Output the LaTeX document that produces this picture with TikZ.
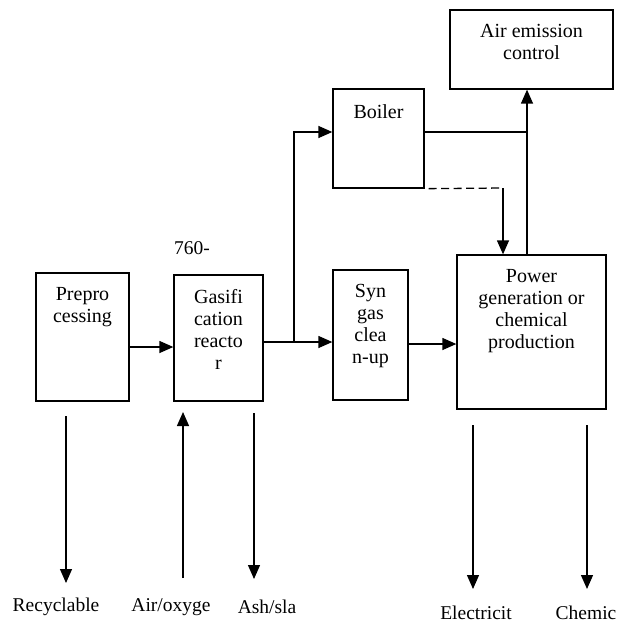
\documentclass[tikz,border=0pt]{standalone}
\usepackage{fontspec}
\setmainfont{Liberation Serif}
\usetikzlibrary{arrows.meta}
\begin{document}
\begin{tikzpicture}[x=1pt,y=-1pt,line width=1.3pt,
  box/.style={draw,rectangle,inner sep=0pt,line width=1.3pt},
  txt/.style={font=\fontsize{20}{22}\selectfont,align=center,inner sep=0pt,anchor=north},
  lbl/.style={font=\fontsize{19.5}{22}\selectfont,inner sep=0pt},
  arr/.style={-{Triangle[length=14pt,width=12pt]}},
  dsh/.style={dash pattern=on 8pt off 4.5pt}]
\useasboundingbox (0,0) rectangle (618,623);
% boxes
\node[box,minimum width=93pt,minimum height=128pt] (prep) at (82.5,337) {};
\node[box,minimum width=89pt,minimum height=126pt] (gas) at (218.5,338) {};
\node[box,minimum width=75pt,minimum height=130pt] (syn) at (370.5,335) {};
\node[box,minimum width=91pt,minimum height=99pt] (boil) at (378.5,138.5) {};
\node[box,minimum width=163pt,minimum height=79pt] (air) at (531.5,49.5) {};
\node[box,minimum width=149pt,minimum height=154pt] (pow) at (531.5,332) {};
% box texts
\node[txt] (preptxt) at ([yshift=-14pt]prep.north) {Prepro\\cessing};
\node[txt] (gastxt) at ([yshift=-14pt]gas.north) {Gasifi\\cation\\reacto\\r};
\node[txt] (syntxt) at ([yshift=-14pt]syn.north) {Syn\\gas\\clea\\n-up};
\node[txt] (boiltxt) at ([yshift=-15.5pt]boil.north) {Boiler};
\node[txt] (airtxt) at ([yshift=-14pt]air.north) {Air emission\\control};
\node[txt] (powtxt) at ([yshift=-14pt]pow.north) {Power\\generation or\\chemical\\production};
\node[lbl] (temp) at (192,248) {760-};
% main flow
\draw[arr] ([yshift=-10pt]prep.east) -- ([yshift=-10pt]prep.east -| gas.west);
\coordinate (j) at (294,342);
\draw[arr] ([yshift=-4pt]gas.east) -- ([yshift=-4pt]gas.east -| syn.west);
\draw[arr] (j) |- ([yshift=6.5pt]boil.west);
\draw[arr] ([yshift=-9pt]syn.east) -- ([yshift=-9pt]syn.east -| pow.west);
\coordinate (pv) at ([xshift=-4.5pt]pow.north);
\draw[arr] (pv) -- (pv |- air.south);
\draw ([yshift=6.5pt]boil.east) -- ([yshift=6.5pt]boil.east -| pv);
\coordinate (d1) at ([xshift=4pt]boil.south east);
\coordinate (d2) at (503,188);
\draw[dsh] (d1) -- (d2);
\draw[arr] (d2) -- (d2 |- pow.north);
% bottom labels
\node[lbl] (rec) at (56,607) {Recyclable};
\node[lbl] (oxy) at (171,607) {Air/oxyge};
\node[lbl] (ash) at (267,607) {Ash/sla};
\node[lbl] (ele) at (476,613) {Electricit};
\node[lbl] (che) at (586,613) {Chemic};
\coordinate (rec0) at (66,416); \coordinate (rec1) at (66,583);
\coordinate (oxy0) at (183,578); \coordinate (oxy1) at (183,412);
\coordinate (ash0) at (254,413); \coordinate (ash1) at (254,579);
\coordinate (ele0) at (473,425); \coordinate (ele1) at (473,589);
\coordinate (che0) at (587,425); \coordinate (che1) at (587,589);
\draw[arr] (rec0) -- (rec1);
\draw[arr] (oxy0) -- (oxy1);
\draw[arr] (ash0) -- (ash1);
\draw[arr] (ele0) -- (ele1);
\draw[arr] (che0) -- (che1);
\end{tikzpicture}
\end{document}
